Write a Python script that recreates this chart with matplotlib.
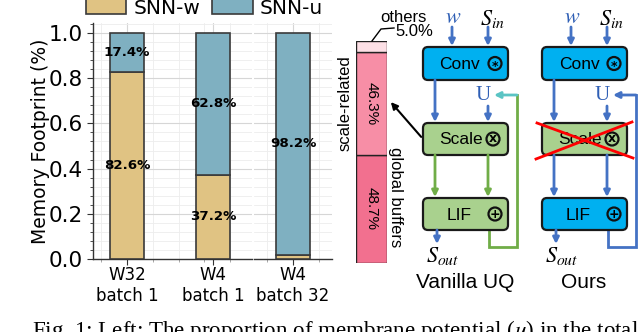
import matplotlib
matplotlib.use("Agg")
import matplotlib.pyplot as plt
from matplotlib.patches import Patch, FancyBboxPatch, Circle
from matplotlib.ticker import MultipleLocator

# ---------------- data ----------------
configs = ["W32\nbatch 1", "W4\nbatch 1", "W4\nbatch 32"]
snn_w = [0.826, 0.372, 0.018]
snn_u = [0.174, 0.628, 0.982]
label_w = ["82.6%", "37.2%", ""]
label_u = ["17.4%", "62.8%", "98.2%"]
series_names = ["SNN-w", "SNN-u"]

breakdown_names = ["global buffers", "scale-related", "others"]
breakdown_vals = [48.7, 46.3, 5.0]

# ---------------- style ----------------
C_W = "#e0c383"
C_U = "#7fb0c1"
EDGE = "#3a3a3a"
PINK = ["#f2708f", "#f78ea6", "#fde0e6"]
BLUE_BOX = "#00b0f0"
GREEN_BOX = "#a9d18e"
BLUE = "#4472c4"
GREEN = "#70ad47"
CYAN = "#5bc4c4"
LBL_BLUE = "#2f5fb5"

W, H = 640, 332
fig = plt.figure(figsize=(6.4, 3.32), dpi=100)


def fx(px):
    return px / W


def fy(py):
    return 1 - py / H


y_top = (259 - 23) / 226.0
bar_w = 0.4


def style_ax(ax, show_left=True):
    ax.set_ylim(0, y_top)
    for s in ["top", "right"]:
        ax.spines[s].set_visible(False)
    ax.spines["left"].set_visible(show_left)
    for s in ["left", "bottom"]:
        ax.spines[s].set_color("#333333")
        ax.spines[s].set_linewidth(1.0)
    ax.yaxis.set_major_locator(MultipleLocator(0.2))
    ax.yaxis.set_minor_locator(MultipleLocator(0.04))
    ax.xaxis.set_minor_locator(MultipleLocator(0.3))
    ax.grid(True, which="major", color="#d6d6d6", lw=0.8)
    ax.grid(True, which="minor", color="#ededed", lw=0.6)
    ax.set_axisbelow(True)
    ax.tick_params(axis="y", which="major", labelsize=15.5, length=4, color="#333333")
    ax.tick_params(axis="y", which="minor", length=2, color="#333333")
    ax.tick_params(axis="x", which="major", labelsize=12, length=4, color="#333333", pad=1)
    ax.tick_params(axis="x", which="minor", length=2, color="#999999")
    if not show_left:
        ax.tick_params(axis="y", which="both", left=False, labelleft=False)


ax1 = fig.add_axes([fx(93), fy(259), fx(252 - 93), (259 - 23) / H])
ax2 = fig.add_axes([fx(254), fy(259), fx(332 - 254), (259 - 23) / H])

groups = [(ax1, [0, 1]), (ax2, [2])]
for ax, idx in groups:
    xs = list(range(len(idx)))
    w_vals = [snn_w[i] for i in idx]
    u_vals = [snn_u[i] for i in idx]
    ax.bar(xs, w_vals, bar_w, color=C_W, edgecolor=EDGE, lw=1.2, zorder=3)
    ax.bar(xs, u_vals, bar_w, bottom=w_vals, color=C_U, edgecolor=EDGE, lw=1.2, zorder=3)
    for x, i in zip(xs, idx):
        if label_w[i]:
            ax.text(x, snn_w[i] / 2, label_w[i], ha="center", va="center",
                    fontsize=9.6, fontweight="bold", zorder=4)
        ax.text(x, snn_w[i] + snn_u[i] / 2, label_u[i], ha="center", va="center",
                fontsize=9.6, fontweight="bold", zorder=4)
    ax.set_xticks(xs)
    ax.set_xticklabels([configs[i] for i in idx])

ax1.set_xlim(-(127 - 93) / 86, 1 + (252 - 213) / 86)
ax2.set_xlim(-(293 - 254) / 86, (332 - 293) / 86)
style_ax(ax1, True)
style_ax(ax2, False)
ax1.set_ylabel("Memory Footprint (%)", fontsize=13.5, labelpad=-1)

handles = [Patch(facecolor=C_W, edgecolor=EDGE, lw=1.2),
           Patch(facecolor=C_U, edgecolor=EDGE, lw=1.2)]
fig.legend(handles, series_names, loc="center left", bbox_to_anchor=(fx(86), fy(8)),
           ncol=2, frameon=False, fontsize=14.5, handlelength=2.0, handleheight=0.8,
           handletextpad=0.35, columnspacing=0.6, borderaxespad=0, borderpad=0)

# ---------------- breakdown bar ----------------
axb = fig.add_axes([fx(356), fy(263), fx(387 - 356), (263 - 41) / H])
bottom = 0
for v, c in zip(breakdown_vals, PINK):
    axb.bar(0, v, 1.0, bottom=bottom, color=c, edgecolor="#222222", lw=1.0)
    bottom += v
axb.set_xlim(-0.5, 0.5)
axb.set_ylim(0, sum(breakdown_vals))
axb.axis("off")
axb.text(0, breakdown_vals[0] / 2, f"{breakdown_vals[0]}%", rotation=-90,
         ha="center", va="center", fontsize=11, family="Liberation Sans")
axb.text(0, breakdown_vals[0] + breakdown_vals[1] / 2, f"{breakdown_vals[1]}%", rotation=-90,
         ha="center", va="center", fontsize=11, family="Liberation Sans")

# ---------------- diagram overlay ----------------
ax = fig.add_axes([0, 0, 1, 1])
ax.set_xlim(0, W)
ax.set_ylim(H, 0)
ax.axis("off")
ax.patch.set_alpha(0)

SANS = "Liberation Sans"
ax.text(345, 103, breakdown_names[1], rotation=90, ha="center", va="center",
        fontsize=12, family=SANS)
ax.text(396, 197, breakdown_names[0], rotation=-90, ha="center", va="center",
        fontsize=12, family=SANS)
ax.text(403, 17, breakdown_names[2], ha="center", va="center", fontsize=12, family=SANS)
ax.text(414, 31, f"{breakdown_vals[2]}%", ha="center", va="center", fontsize=12, family=SANS)
ax.plot([372, 381, 394], [41, 29, 28], color="black", lw=1.0)
ax.annotate("", xy=(389, 100), xytext=(423, 139),
            arrowprops=dict(arrowstyle="-|>", color="black", lw=1.5, mutation_scale=10))


def arrow(x0, y0, x1, y1, color):
    ax.annotate("", xy=(x1, y1), xytext=(x0, y0),
                arrowprops=dict(arrowstyle="-|>", color=color, lw=2.0, mutation_scale=9,
                                shrinkA=0, shrinkB=0))


def box(x, y0, y1, fc, text, sym):
    ax.add_patch(FancyBboxPatch((x, y0), 85, y1 - y0,
                                boxstyle="round,pad=0,rounding_size=5",
                                fc=fc, ec="#1a1a1a", lw=1.6, zorder=3))
    yc = (y0 + y1) / 2
    tx = {"Conv": 37, "Scale": 38, "LIF": 36}[text]
    ax.text(x + tx, yc + 1, text, ha="center", va="center", fontsize=12.5,
            family=SANS, zorder=4)
    cx = x + (70 if text == "Scale" else 72)
    ax.add_patch(Circle((cx, yc), 6.5, fc="none", ec="#111111", lw=1.6, zorder=4))
    dy = {"*": 3.0, "x": -0.5, "+": 0.0}[sym]
    ax.text(cx, yc + dy, sym, ha="center", va="center", fontsize=9,
            fontweight="bold", family="DejaVu Sans", zorder=5)


cols = [(423, GREEN, GREEN_BOX, "Vanilla UQ", CYAN), (542, BLUE, BLUE_BOX, "Ours", BLUE)]
for i, (L, lc, lif_fc, title, fb_color) in enumerate(cols):
    box(L, 47, 80, BLUE_BOX, "Conv", "*")
    box(L, 123, 155, GREEN_BOX, "Scale", "x")
    box(L, 198, 230, lif_fc, "LIF", "+")
    # inputs
    ax.text(L + 30, 17, "$w$", ha="center", va="center", fontsize=16, color=LBL_BLUE,
            math_fontfamily="stix")
    ax.text(L + 69, 19, "$S_{in}$", ha="center", va="center", fontsize=16,
            math_fontfamily="stix")
    arrow(L + 29, 27, L + 29, 46, BLUE)
    arrow(L + 65, 27, L + 65, 46, BLUE)
    # conv -> scale
    arrow(L + 12, 80, L + 12, 122, BLUE)
    ax.text(L + 60, 96, "U", ha="center", va="center", fontsize=15, color=LBL_BLUE,
            family="Liberation Serif")
    arrow(L + 65, 106, L + 65, 122, BLUE)
    # scale -> LIF
    arrow(L + 12, 155, L + 12, 197, lc)
    arrow(L + 65, 155, L + 65, 197, lc)
    # output
    arrow(L + 14, 230, L + 14, 244, BLUE)
    ax.text(L + 20, 256, "$S_{out}$", ha="center", va="center", fontsize=16,
            math_fontfamily="stix")
    # feedback
    ax.plot([L + 66, L + 66, L + 94, L + 94], [230, 247, 247, 95], color=lc, lw=2.0,
            solid_joinstyle="miter", zorder=2)
    arrow(L + 94, 95, L + 71, 95, fb_color)
    ax.text(L + 42, 282, title, ha="center", va="center", fontsize=15, family=SANS)

# red cross on "Ours" scale box
ax.plot([537, 633], [123, 158], color="red", lw=2.0, zorder=6)
ax.plot([536, 632], [159, 122], color="red", lw=2.0, zorder=6)

# caption (cut off at the bottom edge, as in the source)
fig.text(fx(32), fy(318), "Fig. 1: Left: The proportion of membrane potential ($u$) in the total",
         ha="left", va="top", fontsize=16.6, family="Liberation Serif", math_fontfamily="stix")

fig.savefig("out.png", dpi=100)
